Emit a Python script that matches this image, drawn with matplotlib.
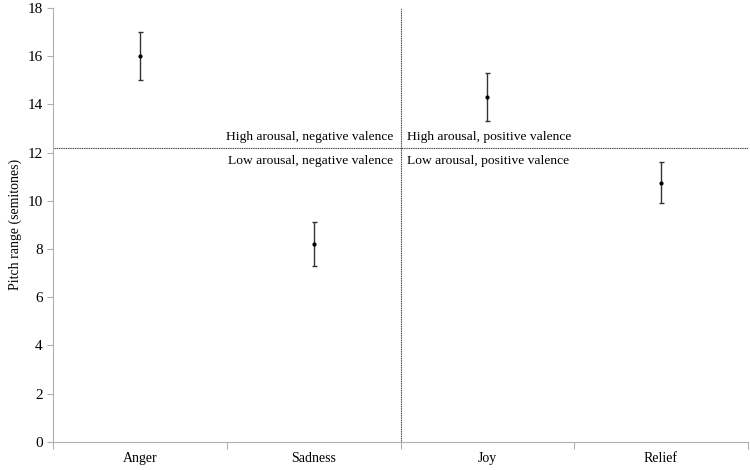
import matplotlib.pyplot as plt

emotions = ['Anger', 'Sadness', 'Joy', 'Relief']
pitch_range = [16.0, 8.2, 14.3, 10.75]
pitch_err = [1.0, 0.9, 1.0, 0.85]
arousal_split = 12.2

plt.rcParams['font.family'] = ['Liberation Serif', 'DejaVu Serif']

fig = plt.figure(figsize=(7.5, 4.7), dpi=100)
ax = fig.add_axes([0.071, 0.06, 0.926, 0.923])

x = list(range(len(emotions)))
ax.errorbar(x, pitch_range, yerr=pitch_err, fmt='o', color='black', ms=2,
            elinewidth=1.0, capsize=1.8, capthick=1.0, ecolor='#333333')

# quadrant lines
ax.axhline(arousal_split, color='#444444', lw=0.8, ls=(0, (1, 0.6)))
ax.axvline(1.5, color='#444444', lw=0.8, ls=(0, (1, 0.6)))

ax.text(1.46, arousal_split + 0.2, 'High arousal, negative valence', ha='right', va='bottom', fontsize=9.7)
ax.text(1.46, arousal_split - 0.3, 'Low arousal, negative valence', ha='right', va='top', fontsize=9.7)
ax.text(1.54, arousal_split + 0.2, 'High arousal, positive valence', ha='left', va='bottom', fontsize=9.7)
ax.text(1.54, arousal_split - 0.3, 'Low arousal, positive valence', ha='left', va='top', fontsize=9.7)

ax.set_xlim(-0.5, len(emotions) - 0.5)
ax.set_ylim(0, 18)
ax.set_yticks(range(0, 19, 2))
ax.set_xticks([i - 0.5 for i in range(len(emotions) + 1)])
ax.set_xticklabels([])
ax.set_xticks(x, minor=True)
ax.set_xticklabels(emotions, minor=True)
ax.tick_params(axis='x', which='minor', length=0, pad=7, labelsize=10)
ax.tick_params(axis='x', which='major', length=5, color='#b0b0b0', direction='out')
ax.tick_params(axis='y', length=4, color='#b0b0b0', labelsize=11)

for side in ['top', 'right']:
    ax.spines[side].set_visible(False)
for side in ['left', 'bottom']:
    ax.spines[side].set_color('#b0b0b0')

ax.set_ylabel('Pitch range (semitones)', fontsize=10)

fig.savefig('out.png', dpi=100)
